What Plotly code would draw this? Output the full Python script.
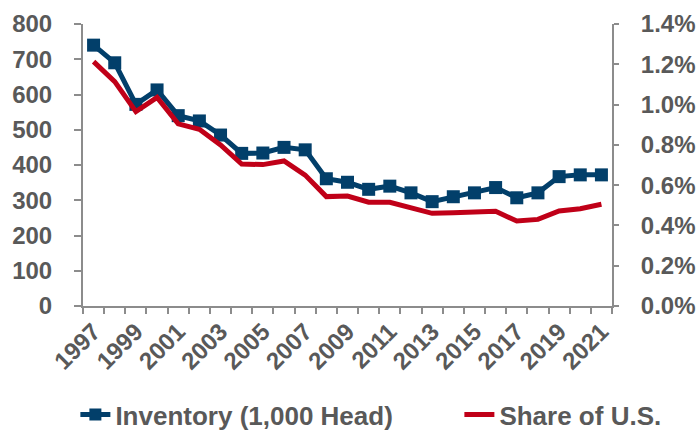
import plotly.graph_objects as go

years = list(range(1997, 2022))
inventory = [740, 690, 572, 613, 540, 525, 485, 433, 434, 450, 443, 361, 351,
             331, 340, 321, 296, 310, 321, 336, 307, 321, 367, 372, 372]
share_us = [0.01213, 0.01114, 0.00965, 0.01036, 0.00904, 0.00877, 0.0080, 0.00705,
            0.00702, 0.0072, 0.0065, 0.00543, 0.00546, 0.00515, 0.00515, 0.00485,
            0.0046, 0.00463, 0.00468, 0.0047, 0.00422, 0.0043, 0.00472, 0.00483, 0.00505]
left_ticks = list(range(0, 801, 100))
right_ticks = [0, 0.002, 0.004, 0.006, 0.008, 0.010, 0.012, 0.014]
x_labels = [str(y) for y in range(1997, 2022, 2)]

NAVY = "#023F6A"
RED = "#C00018"
GREY = "#595959"
AXIS = "#8C8C8C"
FONT = "Liberation Sans, Arial, sans-serif"
FS = 24

fig = go.Figure()
fig.add_trace(go.Scatter(
    x=years, y=inventory, name="<b>Inventory (1,000 Head)</b>",
    mode="lines+markers",
    line=dict(color=NAVY, width=5),
    marker=dict(symbol="square", size=13, color=NAVY),
    legendwidth=339,
    yaxis="y"))
fig.add_trace(go.Scatter(
    x=years, y=share_us, name="<b>Share of U.S.</b>",
    mode="lines",
    line=dict(color=RED, width=5),
    legendwidth=165,
    yaxis="y2"))

fig.update_layout(
    width=696, height=432,
    margin=dict(l=83, r=84, t=24, b=126, autoexpand=False),
    paper_bgcolor="white", plot_bgcolor="white",
    font=dict(family=FONT, size=FS, color=GREY),
    showlegend=True,
    legend=dict(orientation="h", x=-0.0144, y=-0.385, xanchor="left", yanchor="middle",
                font=dict(family=FONT, size=26, color=GREY),
                itemsizing="constant", bgcolor="rgba(0,0,0,0)"),
    xaxis=dict(
        range=[1996.5, 2021.5], showgrid=False, zeroline=False, automargin=False,
        showline=True, linecolor=AXIS, linewidth=2,
        tickmode="array", tickvals=list(range(1997, 2022, 2)),
        ticktext=["<b>%s</b>" % t for t in x_labels],
        ticks="", tickangle=-45,
        tickfont=dict(family=FONT, size=FS, color=GREY),
        minor=dict(tick0=1996.5, dtick=1, ticks="outside", ticklen=6,
                   tickcolor=AXIS, tickwidth=2, showgrid=False),
    ),
    yaxis=dict(
        range=[0, 800], tickmode="array", tickvals=left_ticks,
        ticktext=["<b>%d</b>" % v for v in left_ticks], automargin=False,
        showgrid=False, zeroline=False, showline=True, linecolor=AXIS, linewidth=2,
        ticks="outside", ticklen=7, tickcolor=AXIS, tickwidth=2,
        ticklabelstandoff=17,
        tickfont=dict(family=FONT, size=FS, color=GREY),
    ),
    yaxis2=dict(
        range=[0, 0.014], overlaying="y", side="right", automargin=False,
        tickmode="array", tickvals=right_ticks,
        ticktext=["<b>%.1f%%</b>" % (v * 100) for v in right_ticks],
        showgrid=False, zeroline=False, showline=True, linecolor=AXIS, linewidth=2,
        ticks="outside", ticklen=5, tickcolor=AXIS, tickwidth=2,
        ticklabelstandoff=17,
        tickfont=dict(family=FONT, size=FS, color=GREY),
    ),
)

fig.write_html("out.html", config={"displayModeBar": False},
               post_script="document.body.style.margin='0';document.body.style.overflow='hidden';")
